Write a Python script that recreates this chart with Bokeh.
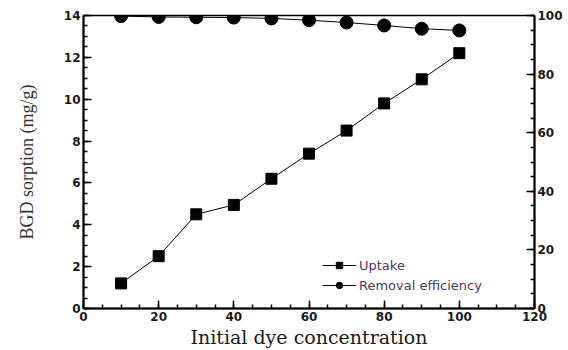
from bokeh.plotting import figure
from bokeh.models import Range1d, LinearAxis, Legend, LegendItem, FixedTicker
from bokeh.embed import file_html
from bokeh.resources import INLINE

concentration = [10, 20, 30, 40, 50, 60, 70, 80, 90, 100]
uptake = [1.2, 2.5, 4.5, 4.95, 6.2, 7.4, 8.5, 9.8, 10.95, 12.2]
removal = [99.8, 99.5, 99.4, 99.3, 99.0, 98.4, 97.6, 96.6, 95.5, 94.9]

p = figure(width=568, height=350, output_backend="svg", toolbar_location=None,
           x_range=Range1d(0, 120), y_range=Range1d(0, 14),
           min_border_left=83, min_border_right=34, min_border_top=15, min_border_bottom=42)
p.extra_y_ranges = {"eff": Range1d(0, 100)}
p.grid.visible = False
p.outline_line_color = "black"
p.outline_line_width = 1.5
p.background_fill_color = "white"
p.border_fill_color = "white"

def style_axis(ax):
    ax.axis_line_width = 2
    ax.axis_line_color = "black"
    ax.major_tick_in = 8
    ax.major_tick_out = 0
    ax.minor_tick_in = 4
    ax.minor_tick_out = 0
    ax.major_tick_line_width = 1.5
    ax.minor_tick_line_width = 1.5
    ax.major_label_text_font = "DejaVu Sans"
    ax.major_label_text_font_style = "bold"
    ax.major_label_text_font_size = "12px"
    ax.major_label_text_color = "#1a1a1a"
    ax.major_label_standoff = 3

xaxis = p.xaxis[0]
xt = [0, 20, 40, 60, 80, 100, 120]
style_axis(xaxis)
xaxis.ticker = FixedTicker(ticks=xt, minor_ticks=[i * 5 for i in range(25)])
xaxis.axis_label = "Initial dye concentration"
xaxis.axis_label_text_font = "DejaVu Serif"
xaxis.axis_label_text_font_style = "normal"
xaxis.axis_label_text_font_size = "19px"
xaxis.axis_label_text_color = "#1a1a1a"
xaxis.axis_label_standoff = 2

yaxis = p.yaxis[0]
yt = [0, 2, 4, 6, 8, 10, 12, 14]
style_axis(yaxis)
yaxis.ticker = FixedTicker(ticks=yt, minor_ticks=[i * 0.5 for i in range(29)])
yaxis.axis_label = "BGD sorption (mg/g)"
yaxis.axis_label_text_font = "Liberation Serif"
yaxis.axis_label_text_font_style = "normal"
yaxis.axis_label_text_font_size = "18px"
yaxis.axis_label_text_color = "#333333"
yaxis.axis_label_standoff = 24

raxis = LinearAxis(y_range_name="eff")
rt = [0, 20, 40, 60, 80, 100]
style_axis(raxis)
raxis.ticker = FixedTicker(ticks=rt, minor_ticks=[i * 5 for i in range(21)])
p.add_layout(raxis, "right")

l1 = p.line(concentration, uptake, line_color="black", line_width=1)
s1 = p.scatter(concentration, uptake, marker="square", size=11, fill_color="black", line_color="black")
l2 = p.line(concentration, removal, y_range_name="eff", line_color="black", line_width=1)
s2 = p.scatter(concentration, removal, y_range_name="eff", marker="circle", size=13,
               fill_color="black", line_color="black")

legend = Legend(items=[LegendItem(label="Uptake", renderers=[l1, s1]),
                       LegendItem(label="Removal efficiency", renderers=[l2, s2])],
                location=(239, 15), border_line_color=None, background_fill_alpha=0,
                padding=0, margin=0, spacing=4, glyph_width=34, glyph_height=16,
                label_standoff=3, label_text_font="DejaVu Sans",
                label_text_font_size="13px", label_text_color="#4a3a5a",
                label_height=16)
p.add_layout(legend, "center")

open("out.html", "w").write(file_html(p, INLINE))
